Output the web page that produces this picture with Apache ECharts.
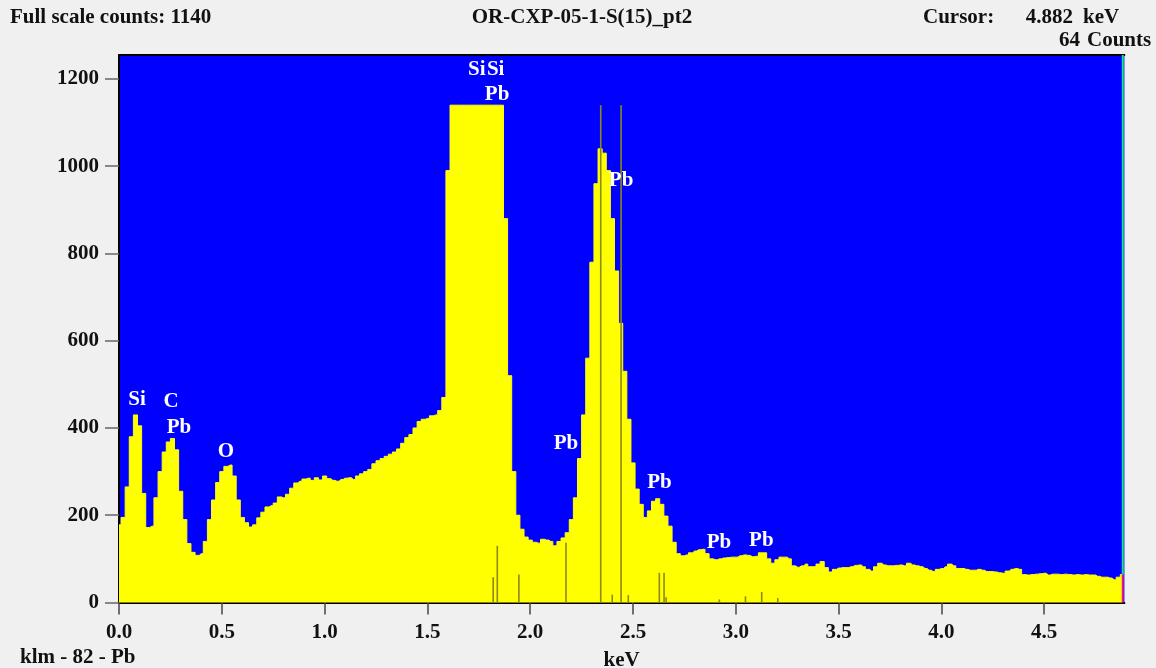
<!DOCTYPE html>
<html>
<head>
<meta charset="utf-8">
<script src="https://cdn.jsdelivr.net/npm/echarts@6/dist/echarts.min.js"></script>
<style>
html,body{margin:0;padding:0;background:#F0F0F0;}
#chart{width:1156px;height:668px;}
</style>
</head>
<body>
<div id="chart"></div>
<script>
// ---- data ----
const channelStart = 0.0;      // keV
const channelWidth = 0.02;     // keV per plotted channel
const counts = [
  178,195,265,380,430,405,250,172,175,240,
  300,345,368,376,350,255,190,135,115,108,
  112,140,190,235,275,300,312,315,290,235,
  195,183,173,178,194,207,219,222,228,242,
  240,248,262,274,278,283,285,280,286,281,
  290,284,280,278,282,285,286,282,290,295,
  300,305,318,325,330,335,340,345,352,365,
  378,385,400,415,420,422,428,430,440,470,
  990,1140,1140,1140,1140,1140,1140,1140,1140,1140,
  1140,1140,1140,1140,880,520,300,200,168,150,
  143,138,136,145,143,140,130,140,148,160,
  190,240,330,430,560,780,960,1040,1030,990,
  880,760,640,530,420,320,260,225,195,210,
  232,238,225,198,175,138,112,107,109,114,
  118,121,122,112,100,98,100,102,103,104,
  104,107,109,108,105,106,114,114,100,90,
  98,104,104,100,84,81,84,88,82,82,
  88,94,80,70,76,79,80,80,82,85,
  86,82,76,72,82,90,86,84,84,85,
  86,84,90,86,84,82,78,74,71,76,
  78,82,88,84,78,78,76,74,74,76,
  74,71,71,70,68,67,72,76,78,76,
  64,63,64,65,66,67,63,65,65,64,
  65,64,63,64,63,64,63,63,60,58,
  58,56,52,58,64
];
// KLM marker lines [energy keV, height counts]
const markerLines = [
  [1.820,58],[1.840,130],[1.945,64],[2.174,137],[2.343,1140],[2.399,18],
  [2.442,1140],[2.477,17],[2.628,68],[2.651,68],[2.661,12],[2.920,7],
  [3.047,14],[3.126,24],[3.204,10]
];
// peak labels [energy keV, counts, text]
const peakLabels = [
  [0.088,466,'Si'],[0.253,461,'C'],[0.292,402,'Pb'],[0.520,345,'O'],
  [1.740,1222,'Si'],[1.832,1222,'Si'],[1.839,1165,'Pb'],
  [2.442,968,'Pb'],[2.174,365,'Pb'],[2.629,276,'Pb'],
  [2.918,138,'Pb'],[3.124,143,'Pb']
];
const xTicks = [0,0.5,1.0,1.5,2.0,2.5,3.0,3.5,4.0,4.5];
const yTicks = [0,200,400,600,800,1000,1200];
const xMax = 4.89, yMax = 1255;
const cursorKeV = 4.882, cursorCounts = 64;
const fullScale = 1140;
const titleText = 'OR-CXP-05-1-S(15)_pt2';
const footerText = 'klm - 82 - Pb';

// ---- chart ----
const FONT = "'Liberation Serif','Times New Roman',serif";
const chart = echarts.init(document.getElementById('chart'), null, {renderer:'canvas'});
const spectrum = counts.map((c,i)=>[+(channelStart + i*channelWidth).toFixed(4), c]);

const txt = (x,y,text,align) => ({
  type:'text', x:x, y:y,
  style:{text:text, x:0, y:0, fill:'#111', font:'bold 21px ' + FONT, textAlign:align, textVerticalAlign:'middle'}
});

chart.setOption({
  animation:false,
  backgroundColor:'#F0F0F0',
  grid:{left:119, top:55, right:31.6, bottom:65.5, show:true, backgroundColor:'#0000FF', borderWidth:0,
    containLabel:false, outerBoundsMode:'none'},
  graphic:[
    txt(10,18,'Full scale counts: ' + fullScale,'left'),
    txt(582,18,titleText,'center'),
    txt(923,18,'Cursor:','left'),
    txt(1073,18,cursorKeV.toFixed(3),'right'),
    txt(1083,18,'keV','left'),
    txt(1080,41,String(cursorCounts),'right'),
    txt(1087,41,'Counts','left'),
    txt(20,658,footerText,'left')
  ],
  xAxis:[{
    type:'value', min:0, max:xMax,
    name:'keV', nameLocation:'middle', nameGap:48,
    nameTextStyle:{color:'#111', fontFamily:FONT, fontWeight:'bold', fontSize:21},
    axisLine:{show:true, onZero:false, lineStyle:{color:'#000', width:2}},
    axisTick:{show:true, customValues:xTicks, length:12, lineStyle:{color:'#444', width:1.5}},
    axisLabel:{show:true, customValues:xTicks, margin:20, color:'#111', fontFamily:FONT, fontWeight:'bold', fontSize:21,
      formatter:v=>v.toFixed(1)},
    splitLine:{show:false}
  },{
    type:'value', position:'top', min:0, max:xMax,
    axisLine:{show:true, onZero:false, lineStyle:{color:'#000', width:2}},
    axisTick:{show:false}, axisLabel:{show:false}, splitLine:{show:false}
  }],
  yAxis:{
    type:'value', min:0, max:yMax,
    axisLine:{show:true, onZero:false, lineStyle:{color:'#000', width:2}},
    axisTick:{show:true, customValues:yTicks, length:14, lineStyle:{color:'#666', width:1.5}},
    axisLabel:{show:true, customValues:yTicks, margin:20, color:'#111', fontFamily:FONT, fontWeight:'bold', fontSize:21,
      formatter:v=>String(v)},
    splitLine:{show:false}
  },
  series:[
    {
      type:'line', data:spectrum, step:'middle', symbol:'none', z:2,
      lineStyle:{color:'#FFFF00', width:1},
      areaStyle:{color:'#FFFF00', opacity:1},
      silent:true
    },
    {
      type:'custom', data:markerLines, z:3, silent:true,
      renderItem:(params, api)=>{
        const p0 = api.coord([api.value(0), 0]);
        const p1 = api.coord([api.value(0), api.value(1)]);
        return {type:'line', shape:{x1:p0[0], y1:p0[1], x2:p1[0], y2:p1[1]},
          style:{stroke:'#8a8a14', lineWidth:1.6}};
      }
    },
    {
      type:'custom', data:[[cursorKeV, cursorCounts]], z:4, silent:true,
      renderItem:(params, api)=>{
        const p0 = api.coord([api.value(0), 0]);
        const p1 = api.coord([api.value(0), api.value(1)]);
        const p2 = api.coord([api.value(0), yMax]);
        return {type:'group', children:[
          {type:'line', shape:{x1:p0[0], y1:p0[1], x2:p1[0], y2:p1[1]}, style:{stroke:'#F0148C', lineWidth:2}},
          {type:'line', shape:{x1:p1[0], y1:p1[1], x2:p2[0], y2:p2[1]}, style:{stroke:'#1FE08A', lineWidth:2}}
        ]};
      }
    },
    {
      type:'scatter', z:5, silent:true, symbolSize:1, itemStyle:{color:'rgba(0,0,0,0)'},
      data:peakLabels.map(l=>({value:[l[0], l[1]], name:l[2]})),
      label:{show:true, position:'inside', formatter:'{b}', color:'#FFFFFF',
        textBorderWidth:0, textBorderColor:'transparent', opacity:1,
        fontFamily:FONT, fontWeight:'bold', fontSize:21}
    }
  ]
});
</script>
</body>
</html>
